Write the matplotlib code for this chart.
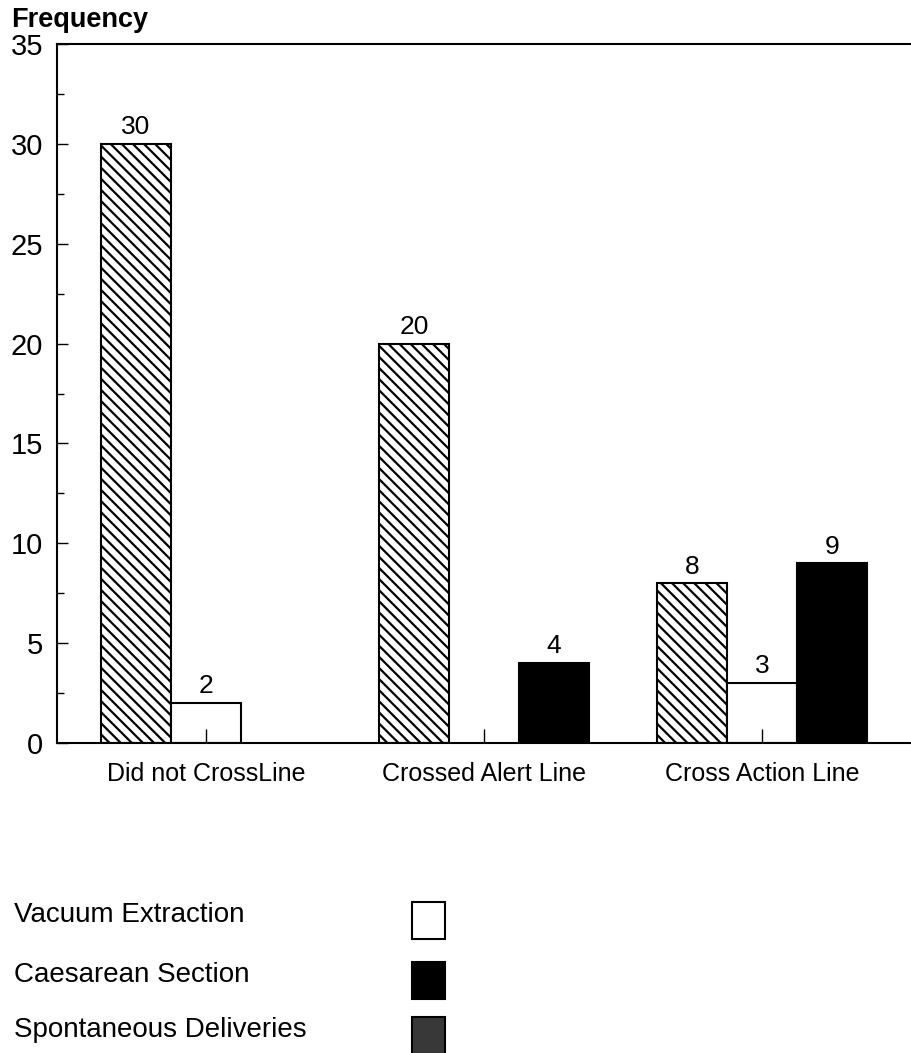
import matplotlib
matplotlib.use('Agg')
import matplotlib.pyplot as plt
from matplotlib.patches import Rectangle
import numpy as np

plt.rcParams['font.family'] = ['Liberation Sans', 'DejaVu Sans']
plt.rcParams['hatch.linewidth'] = 1.6

# dane
categories = ['Did not CrossLine', 'Crossed Alert Line', 'Cross Action Line']
hatched_vals = [30, 20, 8]
white_vals = [2, 0, 3]
black_vals = [0, 4, 9]
legend_labels = ['Vacuum Extraction', 'Caesarean Section', 'Spontaneous Deliveries']
legend_colors = ['white', 'black', '#383838']
yticks = [0, 5, 10, 15, 20, 25, 30, 35]

fig = plt.figure(figsize=(9.12, 10.53), dpi=100)
ax = fig.add_axes([57/912, 310/1053, 1 - 57/912, 699/1053])

x = np.arange(len(categories))
w = 0.252
series = [(hatched_vals, -w, 'white', '\\\\\\'), (white_vals, 0, 'white', ''), (black_vals, w, 'black', '')]
for vals, off, col, hatch in series:
    for xi, v in zip(x, vals):
        if v == 0:
            continue
        ax.bar(xi + off, v, width=w, color=col, edgecolor='black', linewidth=1.5, hatch=hatch)
        ax.annotate(str(v), (xi + off, v), xytext=(0, 7), textcoords='offset points',
                    ha='center', va='baseline', fontsize=19)

ax.set_xlim(-0.536, 2.54)
ax.set_ylim(0, 35)
ax.set_yticks(yticks)
ax.set_yticks(np.arange(2.5, 35, 5), minor=True)
ax.set_xticks(x)
ax.set_xticklabels(categories, fontsize=18)
ax.tick_params(axis='y', direction='in', length=8, width=1, labelsize=21, pad=10)
ax.tick_params(axis='y', which='minor', direction='in', length=5, width=1)
ax.tick_params(axis='x', direction='in', length=10, width=1, pad=14)
ax.spines['right'].set_visible(False)
for s in ['left', 'top', 'bottom']:
    ax.spines[s].set_linewidth(1.5)

fig.text(11/912, 1 - 27/1053, 'Frequency', fontsize=19.5, fontweight='bold', ha='left', va='baseline')

# legenda na dole
ys = [912, 972, 1027]
for lab, col, yc in zip(legend_labels, legend_colors, ys):
    fig.text(14/912, 1 - (yc + 10)/1053, lab, fontsize=20, ha='left', va='baseline')
    fig.patches.append(Rectangle((412/912, 1 - (yc + 27)/1053), 33/912, 37/1053,
                                 transform=fig.transFigure, facecolor=col,
                                 edgecolor='black', linewidth=1.5))

fig.savefig('out.png', dpi=100)
